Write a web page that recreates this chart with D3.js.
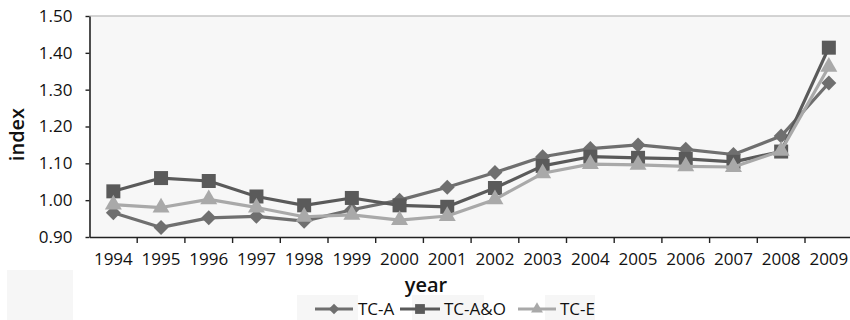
<!DOCTYPE html>
<html>
<head>
<meta charset="utf-8">
<script src="https://cdn.jsdelivr.net/npm/d3@7/dist/d3.min.js"></script>
<style>
  html, body { margin: 0; padding: 0; background: #fff; }
  svg { display: block; font-family: "Open Sans", "Noto Sans", sans-serif; }
</style>
</head>
<body>
<svg id="chart" width="850" height="320"></svg>
<script>
const years = ["1994","1995","1996","1997","1998","1999","2000","2001","2002","2003","2004","2005","2006","2007","2008","2009"];
const tcA  = [0.966, 0.926, 0.952, 0.956, 0.943, 0.974, 1.000, 1.035, 1.075, 1.118, 1.140, 1.150, 1.138, 1.124, 1.174, 1.318];
const tcAO = [1.024, 1.060, 1.052, 1.010, 0.986, 1.006, 0.986, 0.982, 1.033, 1.093, 1.118, 1.115, 1.112, 1.104, 1.132, 1.414];
const tcE  = [0.988, 0.980, 1.002, 0.980, 0.955, 0.960, 0.946, 0.957, 1.002, 1.073, 1.098, 1.096, 1.092, 1.090, 1.134, 1.362];
const yTicks = [0.90, 1.00, 1.10, 1.20, 1.30, 1.40, 1.50];

const series = [
  { name: "TC-A",   values: tcA,  color: "#6f6f6f", symbol: "diamond" },
  { name: "TC-A&O", values: tcAO, color: "#5a5a5a", symbol: "square" },
  { name: "TC-E",   values: tcE,  color: "#a9a9a9", symbol: "triangle" }
];

const svg = d3.select("#chart");
const plot = { left: 89.5, right: 852.7, top: 16, bottom: 237 };

const x = d3.scaleBand().domain(years).range([plot.left, plot.right]).padding(0);
const y = d3.scaleLinear().domain([0.9, 1.5]).range([plot.bottom, plot.top]);
const cx = d => x(d) + x.bandwidth() / 2;

// faint panels behind the legend entries
const legendPanels = [[7, 270, 66, 50], [297, 295, 61, 25], [412, 295, 72, 25], [545, 295, 50, 25]];
svg.append("g").selectAll("rect").data(legendPanels).join("rect")
  .attr("x", d => d[0]).attr("y", d => d[1]).attr("width", d => d[2]).attr("height", d => d[3])
  .attr("fill", "#f6f6f6");

// plot area
svg.append("rect")
  .attr("x", plot.left).attr("y", plot.top)
  .attr("width", plot.right - plot.left).attr("height", plot.bottom - plot.top)
  .attr("fill", "#f7f7f7");

svg.append("line")
  .attr("x1", plot.left).attr("x2", plot.right)
  .attr("y1", y(1.5)).attr("y2", y(1.5))
  .attr("stroke", "#c6c6c6").attr("stroke-width", 1.5);

// y axis
const yAxis = svg.append("g")
  .attr("transform", `translate(${plot.left},0)`)
  .call(d3.axisLeft(y).tickValues(yTicks).tickFormat(d3.format(".2f")).tickSize(4).tickPadding(13).tickSizeOuter(0));
yAxis.select(".domain").attr("stroke", "#222").attr("stroke-width", 1.6);
yAxis.selectAll(".tick line").attr("stroke", "#222").attr("stroke-width", 1.4);
yAxis.selectAll(".tick text").attr("font-size", 17).attr("fill", "#111")
  .attr("font-family", "'Open Sans', sans-serif");

// x axis: labels centred in each category, ticks between categories
const xAxis = svg.append("g")
  .attr("transform", `translate(0,${plot.bottom})`)
  .call(d3.axisBottom(x).tickSize(0).tickPadding(16).tickSizeOuter(0));
xAxis.select(".domain").attr("stroke", "#222").attr("stroke-width", 1.6);
xAxis.selectAll(".tick text").attr("font-size", 17).attr("fill", "#111")
  .attr("font-family", "'Open Sans', sans-serif");
svg.append("g").selectAll("line").data(years.slice(1)).join("line")
  .attr("x1", d => x(d)).attr("x2", d => x(d))
  .attr("y1", plot.bottom).attr("y2", plot.bottom + 6)
  .attr("stroke", "#222").attr("stroke-width", 1.4);

// axis titles
svg.append("text")
  .attr("transform", `translate(24,${(plot.top + plot.bottom) / 2 + 8}) rotate(-90)`)
  .attr("text-anchor", "middle").attr("font-size", 20).attr("font-weight", 600).attr("fill", "#111")
  .text("index");
svg.append("text")
  .attr("x", 426).attr("y", 292)
  .attr("text-anchor", "middle").attr("font-size", 20).attr("font-weight", 600).attr("fill", "#111")
  .text("year");

// marker shapes
function marker(sel, type, scale) {
  if (type === "diamond") {
    sel.attr("d", d3.symbol(d3.symbolSquare, 112 * scale * scale)());
  } else if (type === "square") {
    sel.attr("d", d3.symbol(d3.symbolSquare, 196 * scale * scale)());
  } else {
    sel.attr("d", d3.symbol(d3.symbolTriangle, 125 * scale * scale)());
  }
}

const line = d3.line().x((d, i) => cx(years[i])).y(d => y(d));

series.forEach(s => {
  const g = svg.append("g");
  g.append("path")
    .attr("d", line(s.values))
    .attr("fill", "none").attr("stroke", s.color).attr("stroke-width", 3.2)
    .attr("stroke-linejoin", "round");
  g.selectAll("path.m").data(s.values).join("path")
    .attr("class", "m")
    .call(marker, s.symbol, 1)
    .attr("transform", (d, i) => `translate(${cx(years[i])},${y(d)})` + (s.symbol === "diamond" ? " rotate(45)" : ""))
    .attr("fill", s.color);
});

// legend
const legendItems = [
  { s: series[0], x0: 315, x1: 353, tx: 358 },
  { s: series[1], x0: 400, x1: 440, tx: 444 },
  { s: series[2], x0: 518, x1: 556, tx: 560 }
];
const ly = 309;
legendItems.forEach(it => {
  const g = svg.append("g");
  g.append("line").attr("x1", it.x0).attr("x2", it.x1).attr("y1", ly).attr("y2", ly)
    .attr("stroke", it.s.color).attr("stroke-width", 3.2);
  g.append("path").call(marker, it.s.symbol, 0.7)
    .attr("transform", `translate(${(it.x0 + it.x1) / 2},${ly})` + (it.s.symbol === "diamond" ? " rotate(45)" : ""))
    .attr("fill", it.s.color);
  g.append("text").attr("x", it.tx).attr("y", ly + 6)
    .attr("font-size", 17).attr("fill", "#111").text(it.s.name);
});
</script>
</body>
</html>
